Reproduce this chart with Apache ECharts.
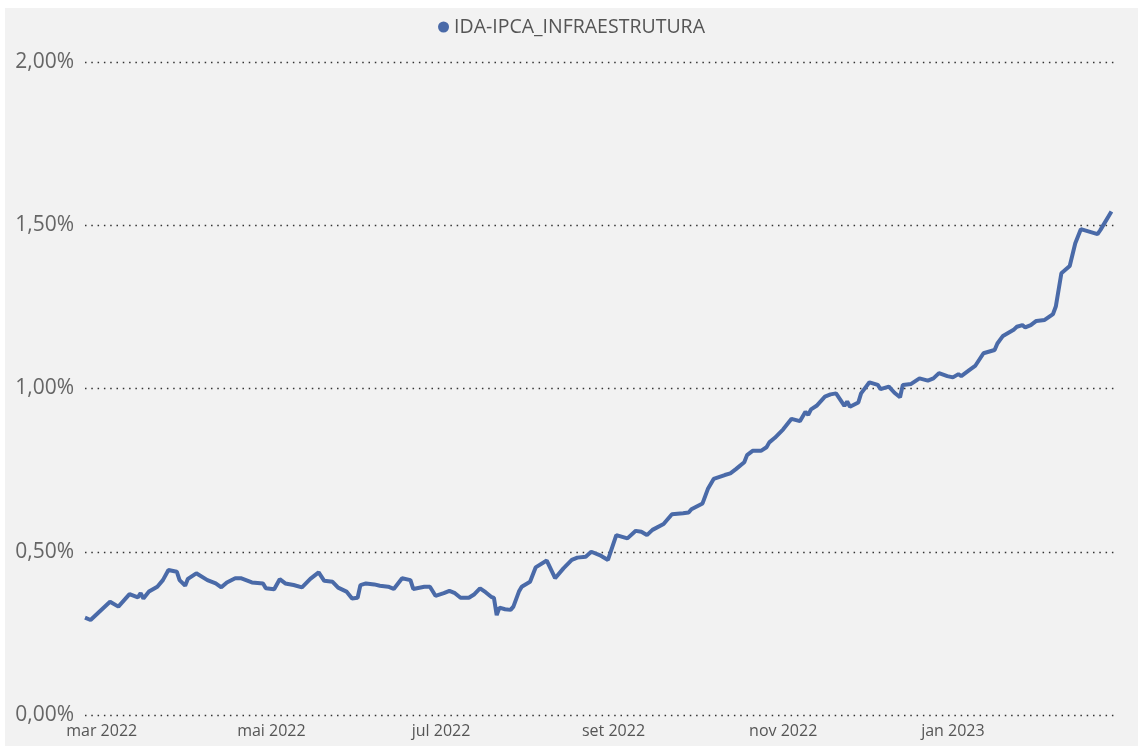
<!DOCTYPE html>
<html>
<head>
<meta charset="utf-8">
<script src="https://cdn.jsdelivr.net/npm/echarts@6/dist/echarts.min.js"></script>
<style>
  html, body { margin: 0; padding: 0; background: #ffffff; }
  #chart { position: absolute; left: 5px; top: 8px; width: 1133px; height: 738px; background: #f2f2f2; }
</style>
</head>
<body>
<div id="chart"></div>
<script>
// serie IDA-IPCA Infraestrutura (%)
const seriesName = 'IDA-IPCA_INFRAESTRUTURA'

const dates = [
  '2022-02-23', '2022-02-25',
  '2022-03-04', '2022-03-07', '2022-03-11', '2022-03-14', '2022-03-15', '2022-03-16', '2022-03-18', '2022-03-21', '2022-03-23', '2022-03-25', '2022-03-28', '2022-03-29', '2022-03-31',
  '2022-04-01', '2022-04-04', '2022-04-08', '2022-04-11', '2022-04-13', '2022-04-15', '2022-04-18', '2022-04-20', '2022-04-24', '2022-04-28', '2022-04-29',
  '2022-05-02', '2022-05-04', '2022-05-06', '2022-05-09', '2022-05-12', '2022-05-15', '2022-05-18', '2022-05-20', '2022-05-23', '2022-05-25', '2022-05-28', '2022-05-30',
  '2022-06-01', '2022-06-02', '2022-06-04', '2022-06-07', '2022-06-09', '2022-06-12', '2022-06-14', '2022-06-17', '2022-06-20', '2022-06-21', '2022-06-25', '2022-06-27', '2022-06-29',
  '2022-07-02', '2022-07-04', '2022-07-06', '2022-07-08', '2022-07-11', '2022-07-13', '2022-07-15', '2022-07-17', '2022-07-19', '2022-07-20', '2022-07-21', '2022-07-22', '2022-07-24', '2022-07-26', '2022-07-27', '2022-07-29', '2022-07-30',
  '2022-08-02', '2022-08-04', '2022-08-08', '2022-08-11', '2022-08-14', '2022-08-17', '2022-08-19', '2022-08-22', '2022-08-24', '2022-08-27', '2022-08-30',
  '2022-09-02', '2022-09-06', '2022-09-09', '2022-09-11', '2022-09-13', '2022-09-15', '2022-09-19', '2022-09-22', '2022-09-26', '2022-09-28', '2022-09-29',
  '2022-10-03', '2022-10-05', '2022-10-07', '2022-10-11', '2022-10-13', '2022-10-15', '2022-10-18', '2022-10-19', '2022-10-21', '2022-10-24', '2022-10-26', '2022-10-27', '2022-10-29',
  '2022-11-01', '2022-11-04', '2022-11-07', '2022-11-09', '2022-11-10', '2022-11-11', '2022-11-13', '2022-11-16', '2022-11-18', '2022-11-20', '2022-11-23', '2022-11-24', '2022-11-25', '2022-11-28', '2022-11-29',
  '2022-12-02', '2022-12-05', '2022-12-06', '2022-12-09', '2022-12-11', '2022-12-13', '2022-12-14', '2022-12-17', '2022-12-20', '2022-12-23', '2022-12-25', '2022-12-27', '2022-12-30',
  '2023-01-01', '2023-01-03', '2023-01-04', '2023-01-07', '2023-01-09', '2023-01-12', '2023-01-16', '2023-01-17', '2023-01-19', '2023-01-23', '2023-01-24', '2023-01-26', '2023-01-27', '2023-01-29', '2023-01-31',
  '2023-02-03', '2023-02-06', '2023-02-07', '2023-02-09', '2023-02-12', '2023-02-14', '2023-02-16', '2023-02-22', '2023-02-23', '2023-02-27'
]

const values = [
  0.298, 0.291,
  0.347, 0.332, 0.370, 0.360, 0.373, 0.357, 0.378, 0.393, 0.413, 0.444, 0.439, 0.413, 0.396,
  0.417, 0.434, 0.413, 0.403, 0.391, 0.406, 0.419, 0.419, 0.406, 0.403, 0.388,
  0.385, 0.416, 0.403, 0.398, 0.391, 0.417, 0.437, 0.411, 0.408, 0.390, 0.378, 0.357,
  0.359, 0.398, 0.403, 0.400, 0.396, 0.393, 0.386, 0.419, 0.413, 0.386, 0.393, 0.393, 0.365,
  0.373, 0.380, 0.373, 0.359, 0.359, 0.370, 0.388, 0.376, 0.362, 0.359, 0.306, 0.329, 0.324, 0.322, 0.332, 0.378, 0.393,
  0.408, 0.452, 0.473, 0.419, 0.449, 0.475, 0.482, 0.485, 0.500, 0.490, 0.475,
  0.551, 0.541, 0.564, 0.561, 0.551, 0.567, 0.585, 0.615, 0.618, 0.620, 0.630,
  0.648, 0.694, 0.723, 0.735, 0.740, 0.753, 0.774, 0.796, 0.809, 0.809, 0.820, 0.835, 0.849,
  0.875, 0.907, 0.900, 0.929, 0.919, 0.936, 0.947, 0.975, 0.982, 0.985, 0.947, 0.960, 0.944, 0.957, 0.985,
  1.019, 1.011, 0.998, 1.006, 0.987, 0.973, 1.011, 1.014, 1.031, 1.024, 1.031, 1.047, 1.038,
  1.034, 1.044, 1.038, 1.057, 1.069, 1.108, 1.118, 1.138, 1.161, 1.181, 1.189, 1.194, 1.187, 1.194, 1.207,
  1.210, 1.228, 1.251, 1.353, 1.375, 1.445, 1.488, 1.473, 1.485, 1.542
]

// rotulos do eixo x (inicio de cada mes)
const monthTicks = ['2022-03-01', '2022-05-01', '2022-07-01', '2022-09-01', '2022-11-01', '2023-01-01']
const monthNames = ['jan', 'fev', 'mar', 'abr', 'mai', 'jun', 'jul', 'ago', 'set', 'out', 'nov', 'dez']

const toTime = (s) => {
  const p = s.split('-')
  return new Date(+p[0], +p[1] - 1, +p[2]).getTime()
}

const lineColor = '#4a6aa8'

const chart = echarts.init(document.getElementById('chart'))

const option = {
  backgroundColor: '#f2f2f2',
  animation: false,
  textStyle: { fontFamily: 'Open Sans' },
  legend: {
    data: [seriesName],
    top: 4,
    left: 'center',
    icon: 'circle',
    itemWidth: 11,
    itemHeight: 11,
    textStyle: { color: '#555', fontSize: 19.5, fontFamily: 'Open Sans' }
  },
  grid: {
    left: 80,
    right: 21,
    top: 54,
    bottom: 31,
    containLabel: false
  },
  // eixo de datas como valor (timestamp), rotulos nos inicios de mes
  xAxis: {
    type: 'value',
    min: toTime('2022-02-23'),
    max: toTime('2023-03-01'),
    axisLine: { show: false },
    axisTick: { show: false },
    splitLine: { show: false },
    axisLabel: {
      customValues: monthTicks.map(toTime),
      color: '#555',
      fontSize: 16,
      margin: 8,
      formatter: (v) => {
        const d = new Date(v)
        return monthNames[d.getMonth()] + ' ' + d.getFullYear()
      }
    }
  },
  yAxis: {
    type: 'value',
    min: 0,
    max: 2,
    interval: 0.5,
    axisLine: { show: false },
    axisTick: { show: false },
    axisLabel: {
      color: '#666',
      fontSize: 21,
      margin: 11,
      formatter: (v) => v.toFixed(2).replace('.', ',') + '%'
    },
    splitLine: {
      lineStyle: { color: '#333', width: 1.3, type: [1.5, 4.8] }
    }
  },
  series: [
    {
      name: seriesName,
      type: 'line',
      data: dates.map((d, i) => [toTime(d), values[i]]),
      showSymbol: false,
      symbol: 'circle',
      lineStyle: { color: lineColor, width: 4 },
      itemStyle: { color: lineColor }
    }
  ]
}

chart.setOption(option)
</script>
</body>
</html>
